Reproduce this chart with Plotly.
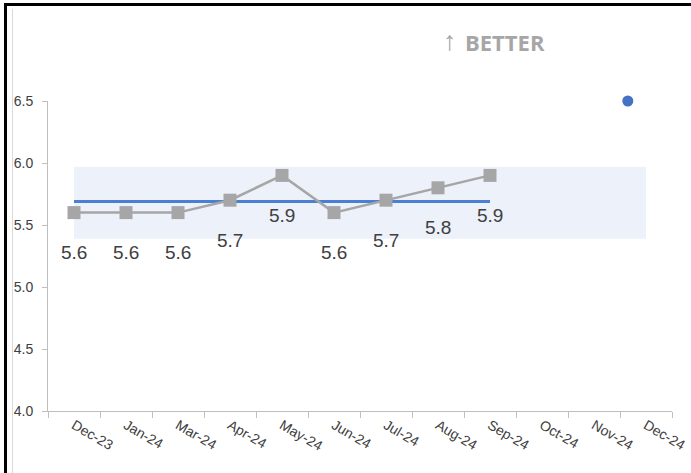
import plotly.graph_objects as go

# ---- data ----
months = ["Dec-23", "Jan-24", "Mar-24", "Apr-24", "May-24", "Jun-24",
          "Jul-24", "Aug-24", "Sep-24", "Oct-24", "Nov-24", "Dec-24"]
data_months = months[:9]
values = [5.6, 5.6, 5.6, 5.7, 5.9, 5.6, 5.7, 5.8, 5.9]
mean_value = 5.69
band_lower = 5.39
band_upper = 5.97
target_value = 6.5
target_pos = 10.65
y_ticks = [4.0, 4.5, 5.0, 5.5, 6.0, 6.5]

# ---- layout geometry ----
W, H = 691, 473
ML, MR, MT, MB = 48, 19, 101, 62
PW, PH = W - ML - MR, H - MT - MB


def px_x(p):
    return (p - ML) / PW


def px_y(p):
    return (H - MB - p) / PH


FONT = "Liberation Sans Narrow, Arial Narrow, Liberation Sans, Arial, sans-serif"

fig = go.Figure()

# control band
fig.add_trace(go.Scatter(x=months, y=[band_lower] * len(months), mode="lines",
                         line=dict(width=0, color="rgba(0,0,0,0)"),
                         showlegend=False, hoverinfo="skip"))
fig.add_trace(go.Scatter(x=months, y=[band_upper] * len(months), mode="lines",
                         line=dict(width=0, color="rgba(0,0,0,0)"),
                         fill="tonexty", fillcolor="#edf1f9",
                         showlegend=False, hoverinfo="skip"))

# mean line
fig.add_trace(go.Scatter(x=data_months, y=[mean_value] * len(data_months),
                         mode="lines", line=dict(color="#4a7fd4", width=3),
                         showlegend=False))

# series
fig.add_trace(go.Scatter(x=data_months, y=values, mode="lines+markers",
                         line=dict(color="#a6a6a6", width=2.5),
                         marker=dict(symbol="square", size=13, color="#a6a6a6"),
                         cliponaxis=False, showlegend=False))

# target dot
fig.add_trace(go.Scatter(x=[target_pos], y=[target_value], xaxis="x2",
                         mode="markers",
                         marker=dict(size=11, color="#4472c4"),
                         cliponaxis=False, showlegend=False))

annotations = []
for m, v in zip(data_months, values):
    annotations.append(dict(x=m, y=v, xref="x", yref="y", text=f"{v:.1f}",
                            showarrow=False, yshift=-40,
                            font=dict(family=FONT, size=19, color="#404040")))

annotations.append(dict(xref="paper", yref="paper", x=px_x(450), y=px_y(41),
                        text="\u2191", showarrow=False,
                        xanchor="center", yanchor="middle",
                        font=dict(family="Liberation Sans, sans-serif", size=27,
                                  color="#a6a6a6")))
annotations.append(dict(xref="paper", yref="paper", x=px_x(505.5), y=px_y(42),
                        text="<b>BETTER</b>", showarrow=False,
                        xanchor="center", yanchor="middle",
                        font=dict(family="Open Sans, sans-serif", size=22,
                                  color="#a6a6a6")))

shapes = [
    # outer light gray border
    dict(type="line", xref="paper", yref="paper", layer="below",
         x0=px_x(12.5), x1=px_x(12.5), y0=px_y(H + 2), y1=px_y(9),
         line=dict(color="#d9d9d9", width=1)),
    # black frame lines
    dict(type="line", xref="paper", yref="paper",
         x0=px_x(5.5), x1=px_x(5.5), y0=px_y(H + 2), y1=px_y(3),
         line=dict(color="#000000", width=3)),
    dict(type="line", xref="paper", yref="paper",
         x0=px_x(4), x1=px_x(W + 2), y0=px_y(4.5), y1=px_y(4.5),
         line=dict(color="#000000", width=3)),
]

fig.update_layout(
    width=W, height=H,
    margin=dict(l=ML, r=MR, t=MT, b=MB, pad=0, autoexpand=False),
    paper_bgcolor="white", plot_bgcolor="white",
    showlegend=False,
    annotations=annotations,
    shapes=shapes,
    xaxis=dict(type="category", categoryorder="array", categoryarray=months,
               range=[-0.5, len(months) - 0.5], tickson="boundaries",
               ticks="outside", ticklen=6, tickcolor="#bfbfbf",
               showline=True, linecolor="#bfbfbf", linewidth=1,
               showgrid=False, zeroline=False, tickangle=30, automargin=False,
               tickfont=dict(family=FONT, size=14, color="#404040")),
    xaxis2=dict(overlaying="x", range=[-0.5, len(months) - 0.5],
                visible=False, showgrid=False, zeroline=False),
    yaxis=dict(range=[4.0, 6.5], tickvals=y_ticks,
               ticktext=[f"{t:.1f}" for t in y_ticks],
               ticks="outside", ticklen=5, tickcolor="#bfbfbf",
               showline=True, linecolor="#bfbfbf", linewidth=1, automargin=False,
               showgrid=False, zeroline=False, ticklabelstandoff=6,
               tickfont=dict(family=FONT, size=14, color="#404040")),
)

fig.write_html("out.html")
